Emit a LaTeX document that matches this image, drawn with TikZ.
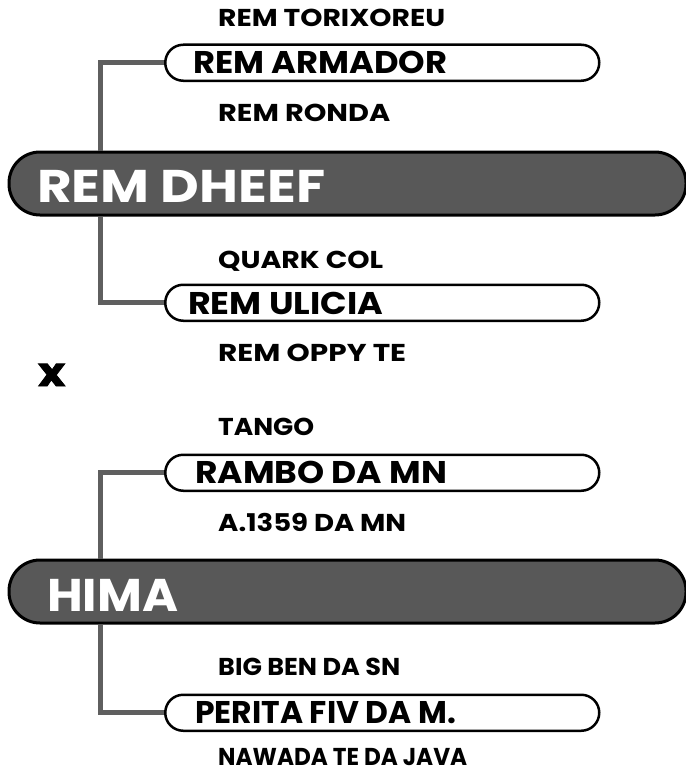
\documentclass[tikz,border=0pt]{standalone}
\usepackage{fontspec}
\usepackage{graphicx}
\setmainfont{Poppins}[BoldFont={* Bold}]
\newfontfamily\heavyx{Poppins Bold}[FakeBold=2]
\definecolor{barfill}{HTML}{585858}
\definecolor{connc}{HTML}{5F5F5F}
\newcommand\fitw[2]{\resizebox{#1bp}{\height}{#2}}
\begin{document}
\begin{tikzpicture}[x=1bp,y=-1bp,
  bigbar/.style={draw=black,line width=3bp,fill=barfill,rounded corners=31bp,minimum width=677bp,minimum height=63bp,inner sep=0pt,anchor=north west},
  pill/.style={draw=black,line width=2.5bp,fill=white,rounded corners=18bp,minimum width=434bp,minimum height=36bp,inner sep=0pt,anchor=north west},
  conn/.style={draw=connc,line width=5bp},
  lbl/.style={font=\fontsize{24.5}{24.5}\selectfont\bfseries,anchor=base west,inner sep=0pt},
  ptxt/.style={font=\fontsize{31.5}{31.5}\selectfont\bfseries,anchor=base west,inner sep=0pt},
  btxt/.style={font=\fontsize{46}{46}\selectfont\bfseries,text=white,anchor=base west,inner sep=0pt}]
\useasboundingbox (0,0) rectangle (686,771);
\coordinate (xv) at (100,0);
% nodes
\node[bigbar] (b1) at (7.5,150.5) {};
\node[bigbar] (b2) at (7.5,558.5) {};
\node[pill] (p1) at (164,43.5) {};
\node[pill] (p2) at (164,283.5) {};
\node[pill] (p3) at (164,453.5) {};
\node[pill] (p4) at (164,693.5) {};
% connectors
\draw[conn] (p1.west) -| (b1.north -| xv);
\draw[conn] (b1.south -| xv) |- (p2.west);
\draw[conn] (p3.west) -| (b2.north -| xv);
\draw[conn] (b2.south -| xv) |- (p4.west);
% texts
\node[lbl] (t1) at (218,27) {\fitw{227}{REM TORIXOREU}};
\node[ptxt] (t2) at (193,74) {\fitw{254}{REM ARMADOR}};
\node[lbl] (t3) at (218,121) {\fitw{172}{REM RONDA}};
\node[btxt] (t4) at (37,202) {\fitw{288}{REM DHEEF}};
\node[lbl] (t5) at (218,268) {\fitw{165}{QUARK COL}};
\node[ptxt] (t6) at (188,314) {\fitw{195}{REM ULICIA}};
\node[lbl] (t7) at (218,361) {\fitw{188}{REM OPPY TE}};
\node[font=\heavyx\fontsize{40}{40}\selectfont,anchor=base west,inner sep=0pt] (tx) at (38,386) {\fitw{27}{x}};
\node[lbl] (t8) at (218,435) {\fitw{96}{TANGO}};
\node[ptxt] (t9) at (195,483) {\fitw{252}{RAMBO DA MN}};
\node[lbl] (t10) at (218,531) {\fitw{188}{A.1359 DA MN}};
\node[btxt] (t11) at (47,611) {\fitw{131}{HIMA}};
\node[lbl] (t12) at (218,675) {\fitw{182}{BIG BEN DA SN}};
\node[ptxt] (t13) at (195,723) {\fitw{261}{PERITA FIV DA M.}};
\node[lbl] (t14) at (218,765) {\fitw{249}{NAWADA TE DA JAVA}};
\end{tikzpicture}
\end{document}
